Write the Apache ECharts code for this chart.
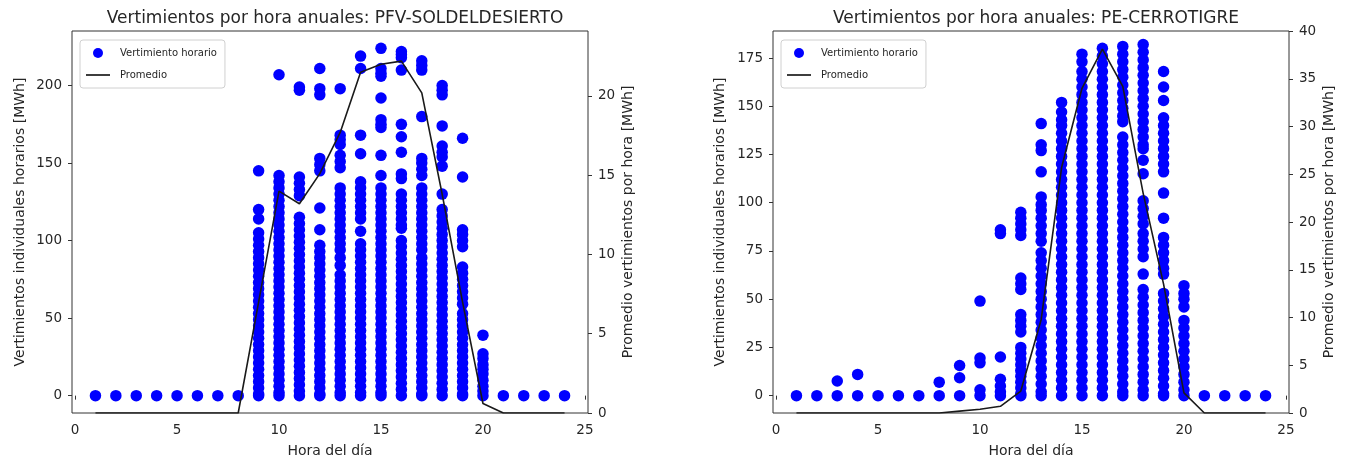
<!DOCTYPE html>
<html>
<head>
<meta charset="utf-8">
<script src="https://cdn.jsdelivr.net/npm/echarts@6/dist/echarts.min.js"></script>
<style>
html,body{margin:0;padding:0;background:#fff;overflow:hidden;width:100%;height:100%;}
#chart{width:1350px;height:463px;position:absolute;left:0;top:0;}
</style>
</head>
<body>
<div id="chart"></div>
<script>
// ---- Data ----
const horas = [1,2,3,4,5,6,7,8,9,10,11,12,13,14,15,16,17,18,19,20,21,22,23,24];

// PFV-SOLDELDESIERTO: individual hourly curtailment values [MWh], one list per hour
const solVertimientos = [
  [0],[0],[0],[0],[0],[0],[0],[0],
  [145,120,114,105,101,97,93,89,85,81,77,73,69,65,61,57,53,49,45,41,37,33,29,25,21,17,13,9,5,1,0],
  [207,142,138,134,130,126,122,118,114,110,106,102,98,94,90,86,82,78,74,70,66,62,58,54,50,46,42,38,34,30,26,22,18,14,10,6,2,0],
  [199,197,141,137,133,129,115,111,107,103,99,95,91,87,83,79,75,71,67,63,59,55,51,47,43,39,35,31,27,23,19,15,11,7,3,0],
  [211,198,194,153,149,145,121,107,97,93,89,85,81,77,73,69,65,61,57,53,49,45,41,37,33,29,25,21,17,13,9,5,1,0],
  [198,168,165,162,155,151,147,134,130,126,122,118,114,110,106,102,98,94,89,84,78,74,70,66,62,58,54,50,46,42,38,34,30,26,22,18,14,10,6,2,0],
  [219,211,168,156,138,134,130,126,122,118,114,106,98,94,90,86,82,78,74,70,66,62,58,54,50,46,42,38,34,30,26,22,18,14,10,6,2,0],
  [224,211,208,206,192,178,175,173,155,142,134,130,126,122,118,114,110,106,102,98,94,90,86,82,78,74,70,66,62,58,54,50,46,42,38,34,30,26,22,18,14,10,6,2,0],
  [222,220,218,210,175,167,157,143,140,130,126,122,118,114,110,108,100,96,92,88,84,80,76,72,68,64,60,56,52,48,44,40,36,32,28,24,20,16,12,8,4,0],
  [216,213,210,180,153,150,146,142,134,130,126,122,118,114,110,106,102,98,94,89,85,81,77,73,69,65,61,57,53,49,45,41,37,33,29,25,21,17,13,9,5,1,0],
  [200,197,194,174,161,157,154,148,130,120,116,112,108,104,100,96,92,88,84,80,76,72,68,64,60,56,52,48,44,40,36,32,28,24,20,16,12,8,4,0],
  [166,141,107,104,100,96,83,79,75,71,67,63,59,53,49,45,41,37,33,29,25,21,17,13,9,5,1,0],
  [39,27,24,20,17,14,10,6,3,0],
  [0],[0],[0],[0]
];
// PFV-SOLDELDESIERTO: hourly average [MWh]
const solPromedio = [0,0,0,0,0,0,0,0,7.0,14.0,13.2,15.1,17.7,21.5,22.0,22.2,20.2,13.8,7.0,0.6,0,0,0,0];

// PE-CERROTIGRE: individual hourly curtailment values [MWh], one list per hour
const cerroVertimientos = [
  [0],[0],[7.6,0],[11,0],[0],[0],[0],[7,0],
  [15.6,9.3,0],
  [49,19.5,17,3,0],
  [86,84,20,8.5,5,2,0],
  [95,92,89,86,83,61,58,55,42,39,36,33,25,22,19,16,13,10,7,4,1,0],
  [141,130,127,116,103,99,96,92,88,84,80,74,70,66,62,58,54,50,46,42,38,34,30,26,22,18,14,10,6,2,0],
  [152,147,143,140,136,132,128,124,120,116,112,108,104,100,96,92,88,84,80,76,72,68,64,60,56,52,48,44,40,36,32,28,24,20,16,12,8,4,0],
  [177,173,168,164,160,156,152,148,144,140,136,132,128,124,120,116,112,108,104,100,96,92,88,84,80,76,72,68,64,60,56,52,48,44,40,36,32,28,24,20,16,12,8,4,0],
  [180,176,172,168,164,160,156,152,148,144,140,136,132,128,124,120,116,112,108,104,100,96,92,88,84,80,76,72,68,64,60,56,52,48,44,40,36,32,28,24,20,16,12,8,4,0],
  [181,177,173,169,165,161,157,153,149,145,142,134,130,126,122,118,114,110,106,102,98,94,90,86,82,78,74,70,66,62,58,54,50,46,42,38,34,30,26,22,18,14,10,6,2,0],
  [182,178,174,170,166,162,158,154,150,146,142,138,134,130,128,122,115,101,97,93,89,84,80,76,72,63,55,51,47,43,39,35,31,27,23,19,15,11,7,3,0],
  [168,160,153,144,140,136,132,128,124,120,116,105,92,82,78,74,70,66,63,53,49,45,41,37,33,29,25,21,17,13,9,5,1,0],
  [57,53,50,46,39,35,31,27,23,19,15,11,7,3,0],
  [0],[0],[0],[0]
];
// PE-CERROTIGRE: hourly average [MWh]
const cerroPromedio = [0,0,0,0,0,0,0,0,0.2,0.4,0.7,2.3,9.8,25.7,34.0,38.1,34.2,23.0,13.5,2.1,0,0,0,0];

const xTicks = [0,5,10,15,20,25];
const solLeftTicks = [0,50,100,150,200];
const solRightTicks = [0,5,10,15,20];
const cerroLeftTicks = [0,25,50,75,100,125,150,175];
const cerroRightTicks = [0,5,10,15,20,25,30,35,40];

const titles = ['Vertimientos por hora anuales: PFV-SOLDELDESIERTO', 'Vertimientos por hora anuales: PE-CERROTIGRE'];
const nombreScatter = 'Vertimiento horario';
const nombreLinea = 'Promedio';

// ---- Build ----
function toPoints(lists){
  const out = [];
  horas.forEach((h,i)=>{ lists[i].forEach(v=>out.push([h,v])); });
  return out;
}
const FONT = 'DejaVu Sans';
const TXT = '#262626';
const AX = '#333';

function xAxis(gi){
  return {
    type:'value', gridIndex:gi, min:-0.15, max:25.15,
    name:'Hora del día', nameLocation:'middle', nameGap:31,
    nameTextStyle:{fontFamily:FONT,fontSize:14,color:TXT},
    axisLine:{show:false},
    axisTick:{show:true,length:4,lineStyle:{color:AX},customValues:xTicks},
    axisLabel:{fontFamily:FONT,fontSize:13.5,color:TXT,margin:10,customValues:xTicks},
    splitLine:{show:false}
  };
}
function yAxis(gi,pos,min,max,ticks,name,gap){
  return {
    type:'value', gridIndex:gi, position:pos, min:min, max:max,
    name:name, nameLocation:'middle', nameGap:gap, nameRotate:90,
    nameTextStyle:{fontFamily:FONT,fontSize:14,color:TXT},
    axisLine:{show:false,onZero:false},
    axisTick:{show:true,length:4,lineStyle:{color:AX},customValues:ticks},
    axisLabel:{fontFamily:FONT,fontSize:13.5,color:TXT,margin:10,customValues:ticks},
    splitLine:{show:false}
  };
}
function legend(left){
  return {
    left:left, top:40, orient:'vertical',
    data:[{name:nombreScatter,icon:'circle'},{name:nombreLinea,icon:'path://M0,0L24,0L24,1.7L0,1.7Z'}],
    itemWidth:24, itemHeight:10, itemGap:12,
    symbolKeepAspect:true,
    padding:[8,8,8,6],
    borderColor:'#d0d0d0', borderWidth:1, borderRadius:3, backgroundColor:'#fff',
    textStyle:{fontFamily:FONT,fontSize:10,color:TXT,padding:[0,0,0,5]},
    selectedMode:false
  };
}

const option = {
  animation:false,
  backgroundColor:'#fff',
  title:[
    {text:titles[0], left:330, top:5, textAlign:'center', textStyle:{fontFamily:FONT,fontSize:17,fontWeight:'normal',color:TXT}},
    {text:titles[1], left:1031, top:5, textAlign:'center', textStyle:{fontFamily:FONT,fontSize:17,fontWeight:'normal',color:TXT}}
  ],
  legend:[legend(80), legend(781)],
  grid:[
    {left:72, right:762, top:31, bottom:46, show:true, borderColor:AX, borderWidth:1, backgroundColor:'#fff'},
    {left:773, right:61, top:31, bottom:46, show:true, borderColor:AX, borderWidth:1, backgroundColor:'#fff'}
  ],
  xAxis:[xAxis(0), xAxis(1)],
  yAxis:[
    yAxis(0,'left',-11.2,235.2,solLeftTicks,'Vertimientos individuales horarios [MWh]',45),
    yAxis(0,'right',0,24.1,solRightTicks,'Promedio vertimientos por hora [MWh]',33),
    yAxis(1,'left',-9,189,cerroLeftTicks,'Vertimientos individuales horarios [MWh]',46),
    yAxis(1,'right',0,40,cerroRightTicks,'Promedio vertimientos por hora [MWh]',33)
  ],
  series:[
    {name:nombreScatter, type:'scatter', xAxisIndex:0, yAxisIndex:0, data:toPoints(solVertimientos),
     symbol:'circle', symbolSize:11.5, itemStyle:{color:'#0000ff',opacity:1}, z:2},
    {name:nombreLinea, type:'line', xAxisIndex:0, yAxisIndex:1, data:horas.map((h,i)=>[h,solPromedio[i]]),
     symbol:'none', lineStyle:{color:'#1a1a1a',width:1.6}, itemStyle:{color:'#1a1a1a'}, z:3},
    {name:nombreScatter, type:'scatter', xAxisIndex:1, yAxisIndex:2, data:toPoints(cerroVertimientos),
     symbol:'circle', symbolSize:11.5, itemStyle:{color:'#0000ff',opacity:1}, z:2},
    {name:nombreLinea, type:'line', xAxisIndex:1, yAxisIndex:3, data:horas.map((h,i)=>[h,cerroPromedio[i]]),
     symbol:'none', lineStyle:{color:'#1a1a1a',width:1.6}, itemStyle:{color:'#1a1a1a'}, z:3}
  ]
};
const chart = echarts.init(document.getElementById('chart'), null, {renderer:'canvas'});
chart.setOption(option);
</script>
</body>
</html>
